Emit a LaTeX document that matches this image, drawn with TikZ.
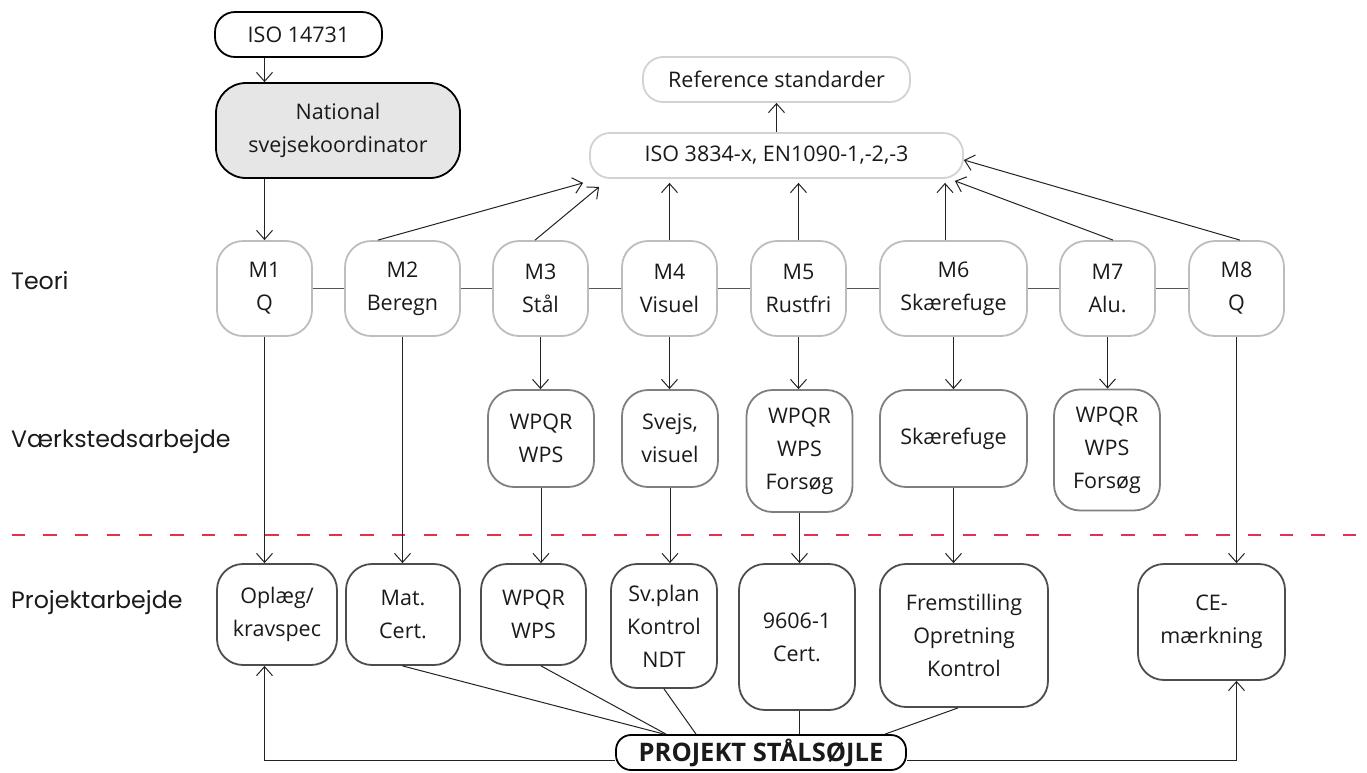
\documentclass[tikz,border=0pt]{standalone}
\usepackage{fontspec}
\setmainfont{Open Sans}
\newfontfamily\futfont{Poppins}
\usetikzlibrary{arrows.meta,calc}
\definecolor{txt}{HTML}{1A1A1A}
\definecolor{teorib}{HTML}{BDBDBD}
\definecolor{refb}{HTML}{D2D2D2}
\definecolor{workb}{HTML}{7F7F7F}
\definecolor{projb}{HTML}{4D4D4D}
\definecolor{linec}{HTML}{222222}
\definecolor{grayline}{HTML}{555555}
\definecolor{natfill}{HTML}{E6E6E6}
\definecolor{redd}{HTML}{E3324F}
\begin{document}
\begin{tikzpicture}[x=1pt,y=-1pt,
  >={Straight Barb[length=9pt,width=16pt]},
  box/.style={draw, line width=1.8pt, align=center, inner sep=0pt, text=txt,
    font=\fontsize{21.5}{33}\selectfont},
  topbox/.style={box, draw=black, rounded corners=20pt},
  refbox/.style={box, draw=refb, minimum height=45pt, rounded corners=20pt},
  mbox/.style={box, draw=teorib, minimum height=95pt, rounded corners=26pt},
  wbox/.style={box, draw=workb, rounded corners=26pt},
  pbox/.style={box, draw=projb, rounded corners=26pt},
  conn/.style={line width=1pt, draw=linec},
  arr/.style={conn, ->},
  hline/.style={line width=1.2pt, draw=grayline},
  lab/.style={font=\futfont\fontsize{23.7}{30}\selectfont, text=txt, anchor=base west, inner sep=0pt},
  redline/.style={draw=redd, line width=2pt, dash pattern=on 13.3pt off 18.4pt}
]
\useasboundingbox (0,0) rectangle (1367,772);

% left labels
\node[lab] (teori) at (11,289) {Teori};
\node[lab] (vaerk) at (11,447) {Værkstedsarbejde};
\node[lab] (projl) at (11,608) {Projektarbejde};

% top
\node[topbox, minimum width=167pt, minimum height=45pt] (iso14) at (298.5,34.5) {ISO 14731};
\node[topbox, fill=natfill, rounded corners=30pt, minimum width=244pt, minimum height=95pt] (nat) at (338,130.5) {National\\svejsekoordinator};
\node[refbox, minimum width=267pt] (ref) at (776.5,79.5) {Reference standarder};
\node[refbox, minimum width=373pt] (iso) at (776.5,155.5) {ISO 3834-x, EN1090-1,-2,-3};

% theory row
\node[mbox, minimum width=95pt]  (m1) at (264.5,288.5) {M1\\Q};
\node[mbox, minimum width=115pt] (m2) at (402.5,288.5) {M2\\Beregn};
\node[mbox, minimum width=95pt]  (m3) at (540.5,288.5) {M3\\Stål};
\node[mbox, minimum width=95pt]  (m4) at (669.5,288.5) {M4\\Visuel};
\node[mbox, minimum width=95pt]  (m5) at (798.5,288.5) {M5\\Rustfri};
\node[mbox, minimum width=147pt] (m6) at (953.5,288.5) {M6\\Skærefuge};
\node[mbox, minimum width=95pt]  (m7) at (1107.5,288.5) {M7\\Alu.};
\node[mbox, minimum width=95pt]  (m8) at (1236.5,288.5) {M8\\Q};

% workshop row
\node[wbox, minimum width=106pt, minimum height=97pt]  (w3) at (541,438.5) {WPQR\\WPS};
\node[wbox, minimum width=96pt, minimum height=97pt]   (w4) at (670,438.5) {Svejs,\\visuel};
\node[wbox, minimum width=106pt, minimum height=122pt] (w5) at (799.5,451) {WPQR\\WPS\\Forsøg};
\node[wbox, minimum width=147pt, minimum height=97pt]  (w6) at (953.5,438.5) {Skærefuge};
\node[wbox, minimum width=106pt, minimum height=121pt] (w7) at (1107,450) {WPQR\\WPS\\Forsøg};

% project row
\node[pbox, minimum width=120pt, minimum height=101pt] (p1) at (277,614.5) {Oplæg/\\kravspec};
\node[pbox, minimum width=114pt, minimum height=101pt] (p2) at (403,614.5) {Mat.\\Cert.};
\node[pbox, minimum width=105pt, minimum height=101pt] (p3) at (533.5,614.5) {WPQR\\WPS};
\node[pbox, minimum width=106pt, minimum height=124pt] (p4) at (664,626) {Sv.plan\\Kontrol\\NDT};
\node[pbox, minimum width=116pt, minimum height=146pt] (p5) at (797,637) {9606-1\\Cert.};
\node[pbox, minimum width=168pt, minimum height=143pt] (p6) at (964,635.5) {Fremstilling\\Opretning\\Kontrol};
\node[pbox, minimum width=147pt, minimum height=116pt] (p7) at (1211.5,622) {CE-\\mærkning};

\node[box, draw=black, rounded corners=15pt, minimum width=290pt, minimum height=35pt,
  font=\bfseries\fontsize{25.5}{28}\selectfont] (proj) at (761,752.5) {PROJEKT STÅLSØJLE};

% red dashed separator
\draw[redline] (11.7,535) -- (1367,535);

% top connectors
\draw[arr] (iso14.south -| m1.north) -- (nat.north -| m1.north);
\draw[arr] (nat.south -| m1.north) -- (m1.north);
\draw[arr] (iso.north) -- (ref.south);

% theory to ISO 3834
\draw[arr] ($(m2.north)+(-24.5,0)$) -- ($(iso.south west)+(-6,4)$);
\draw[arr] ($(m3.north)+(-5.5,0)$) -- ($(iso.south west)+(10,8)$);
\draw[arr, shorten >=4pt] (m4.north) -- (m4.north |- iso.south);
\draw[arr, shorten >=4pt] (m5.north) -- (m5.north |- iso.south);
\draw[arr, shorten >=4pt] ($(m6.north)+(-8.5,0)$) -- ($(m6.north |- iso.south)+(-8.5,0)$);
\draw[arr] ($(m7.north)+(5.5,0)$) -- ($(iso.south east)+(-9,2)$);
\draw[arr] ($(m8.north)+(3.5,0)$) -- ($(iso.east)+(0,4.5)$);

% theory horizontal links
\draw[hline] (m1) -- (m2);
\draw[hline] (m2) -- (m3);
\draw[hline] (m3) -- (m4);
\draw[hline] (m4) -- (m5);
\draw[hline] (m5) -- (m6);
\draw[hline] (m6) -- (m7);
\draw[hline] (m7) -- (m8);

% downward arrows
\draw[arr] (m1.south) -- (m1.south |- p1.north);
\draw[arr] (m2.south) -- (m2.south |- p2.north);
\draw[arr] (m3.south) -- (m3.south |- w3.north);
\draw[arr] (w3.south) -- (w3.south |- p3.north);
\draw[arr] (m4.south) -- (m4.south |- w4.north);
\draw[arr] (w4.south) -- (w4.south |- p4.north);
\draw[arr] (m5.south) -- (m5.south |- w5.north);
\draw[arr] (w5.south) -- (w5.south |- p5.north);
\draw[arr] (m6.south) -- (m6.south |- w6.north);
\draw[arr] (w6.south) -- (w6.south |- p6.north);
\draw[arr] (m7.south) -- (m7.south |- w7.north);
\draw[arr] (m8.south) -- (m8.south |- p7.north);

% project boxes to PROJEKT
\draw[conn] (m2.south |- p2.south) -- ($(proj.north)+(-97,0)$);
\draw[conn] (w3.south |- p3.south) -- ($(proj.north)+(-95,0)$);
\draw[conn] (p4.south) -- ($(proj.north)+(-65,0)$);
\draw[conn] (w5.south |- p5.south) -- (w5.south |- proj.north);
\draw[conn] ($(p6.south)+(-6,0)$) -- ($(proj.north)+(124,0)$);

% loops
\draw[arr] ($(proj.west)+(0,7.5)$) -| (m1.south |- p1.south);
\draw[arr] ($(proj.east)+(0,7.5)$) -| (m8.south |- p7.south);
\end{tikzpicture}
\end{document}
